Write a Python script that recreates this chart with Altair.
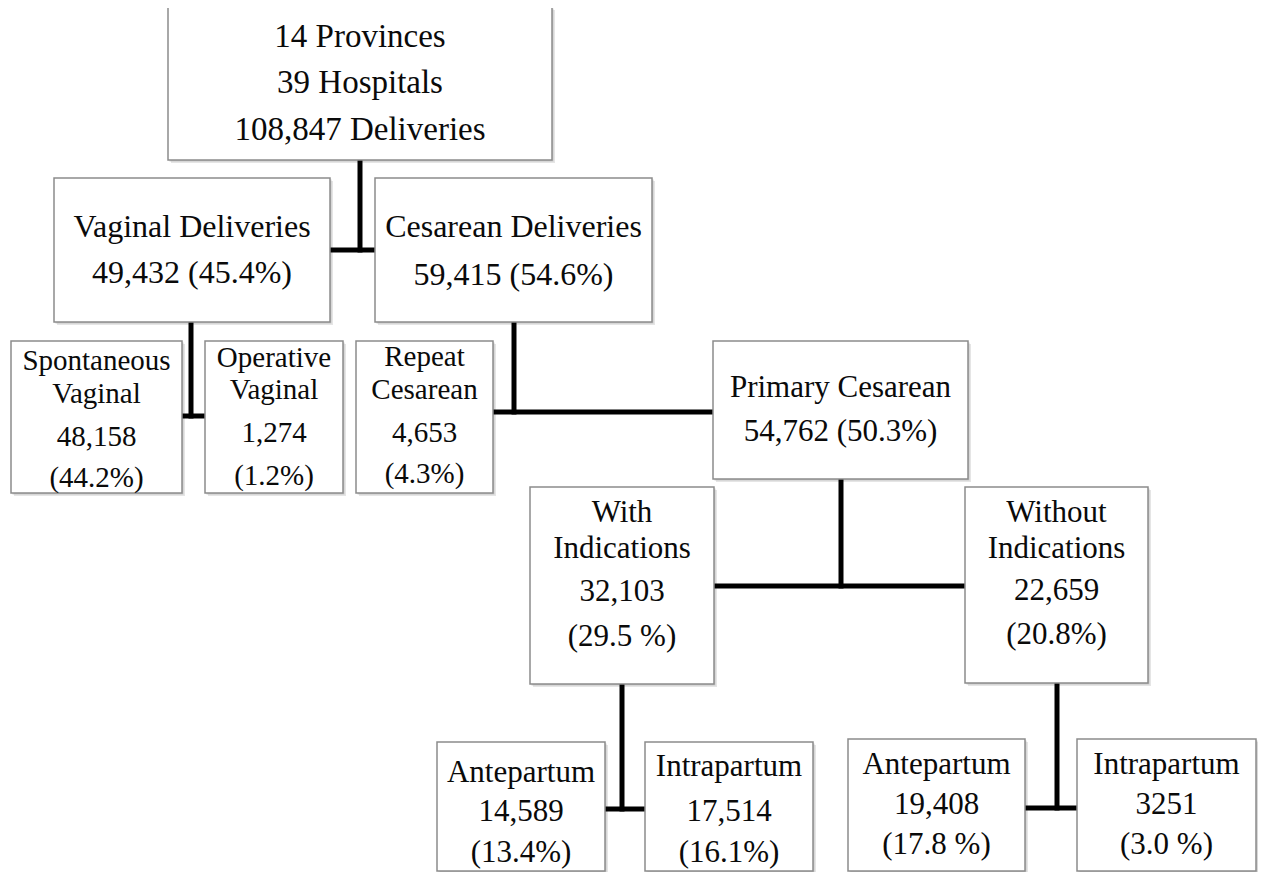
import altair as alt
import pandas as pd

# ---- content ----
node_ids = ["top", "vag", "ces", "spon", "oper", "rep", "prim",
            "with", "without", "ante1", "intra1", "ante2", "intra2"]
node_lines = [
    ["14 Provinces", "39 Hospitals", "108,847 Deliveries"],
    ["Vaginal Deliveries", "49,432 (45.4%)"],
    ["Cesarean Deliveries", "59,415 (54.6%)"],
    ["Spontaneous", "Vaginal", "48,158", "(44.2%)"],
    ["Operative", "Vaginal", "1,274", "(1.2%)"],
    ["Repeat", "Cesarean", "4,653", "(4.3%)"],
    ["Primary Cesarean", "54,762 (50.3%)"],
    ["With", "Indications", "32,103", "(29.5 %)"],
    ["Without", "Indications", "22,659", "(20.8%)"],
    ["Antepartum", "14,589", "(13.4%)"],
    ["Intrapartum", "17,514", "(16.1%)"],
    ["Antepartum", "19,408", "(17.8 %)"],
    ["Intrapartum", "3251", "(3.0 %)"],
]

# ---- layout (page pixels) ----
box_x1 = [168, 54, 375, 11, 205, 356, 713, 530, 965, 437, 645, 848, 1077]
box_x2 = [552, 330, 652, 182, 343, 493, 968, 714, 1148, 605, 813, 1025, 1256]
box_y1 = [7, 178, 178, 341, 341, 341, 341, 487, 487, 742, 742, 739, 739]
box_y2 = [160, 322, 322, 493, 493, 493, 479, 684, 683, 871, 871, 871, 871]
line_y = [
    [37, 83, 130],
    [227, 273],
    [227, 275],
    [361, 394, 437, 478],
    [358, 390, 433, 476],
    [357, 390, 433, 474],
    [388, 432],
    [513, 549, 592, 637],
    [513, 549, 591, 635],
    [773, 812, 853],
    [767, 812, 853],
    [765, 805, 845],
    [765, 805, 845],
]
font_sizes = [33, 32, 32, 29, 29, 29, 31, 31, 31, 31, 31, 31, 31]

# connectors: (x1, y1, x2, y2)
conn_x1 = [360, 330, 191, 182, 514, 493, 841, 714, 622, 605, 1057, 1025]
conn_y1 = [160, 250, 322, 416, 322, 412, 479, 586, 684, 809, 683, 808]
conn_x2 = [360, 375, 191, 205, 514, 713, 841, 965, 622, 645, 1057, 1077]
conn_y2 = [250, 250, 416, 416, 412, 412, 586, 586, 809, 809, 808, 808]

boxes = pd.DataFrame({"id": node_ids, "x1": box_x1, "x2": box_x2,
                      "y1": box_y1, "y2": box_y2})
shadow = boxes.copy()
shadow[["x1", "x2", "y1", "y2"]] += 3
shadow2 = boxes.copy()
shadow2[["x1", "x2", "y1", "y2"]] += 1.5

rows = []
for i, lines in enumerate(node_lines):
    cx = (box_x1[i] + box_x2[i]) / 2
    for t, y in zip(lines, line_y[i]):
        rows.append({"text": t, "x": cx, "y": y, "size": font_sizes[i]})
texts = pd.DataFrame(rows)

conns = pd.DataFrame({"x1": conn_x1, "y1": conn_y1, "x2": conn_x2, "y2": conn_y2})

W, H = 1250, 864
xs = alt.Scale(domain=[8, 8 + W], nice=False, zero=False)
ys = alt.Scale(domain=[8, 8 + H], nice=False, zero=False, reverse=True)
X = lambda f: alt.X(f, type="quantitative", scale=xs, axis=None)
Y = lambda f: alt.Y(f, type="quantitative", scale=ys, axis=None)

sh1 = alt.Chart(shadow).mark_rect(fill="#d4d4d4", opacity=0.6).encode(
    x=X("x1"), x2="x2", y=Y("y1"), y2="y2")
sh2 = alt.Chart(shadow2).mark_rect(fill="#b8b8b8", opacity=0.6).encode(
    x=X("x1"), x2="x2", y=Y("y1"), y2="y2")
rects = alt.Chart(boxes).mark_rect(fill="white", stroke="#8c8c8c", strokeWidth=1.5).encode(
    x=X("x1"), x2="x2", y=Y("y1"), y2="y2")
rules = alt.Chart(conns).mark_rule(color="black", strokeWidth=5, strokeCap="square").encode(
    x=X("x1"), x2="x2", y=Y("y1"), y2="y2")
labels = alt.Chart(texts).mark_text(font="Liberation Serif", color="#0a0a0a",
                                    align="center", baseline="middle").encode(
    x=X("x"), y=Y("y"), text="text:N",
    size=alt.Size("size:Q", scale=None, legend=None))

chart = alt.layer(sh1, sh2, rules, rects, labels).properties(
    width=W, height=H, padding=0, autosize="none", background="white"
).configure_view(stroke=None, strokeWidth=0)

chart.save("out.html", embed_options={"renderer": "svg", "actions": False})
